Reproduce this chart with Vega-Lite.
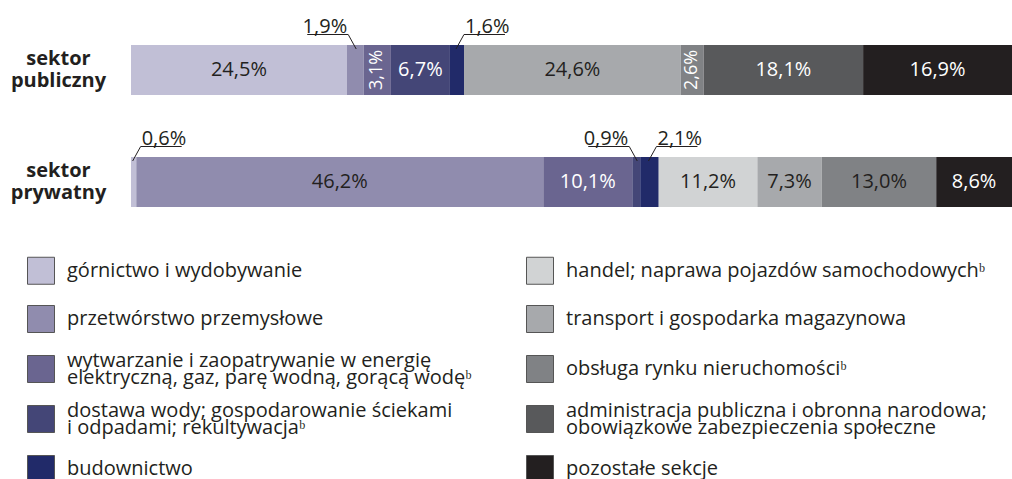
{
  "$schema": "https://vega.github.io/schema/vega-lite/v6.json",
  "width": 881,
  "height": 224,
  "autosize": {"type": "none"},
  "padding": {"left": 131, "top": 14, "right": 0, "bottom": 241},
  "config": {
    "view": {"stroke": null},
    "font": "Open Sans",
    "locale": {"number": {"decimal": ",", "thousands": " ", "grouping": [3], "currency": ["", "%"]}},
    "legend": {"symbolStrokeColor": "#555555", "symbolStrokeWidth": 1}
  },
  "data": {
    "values": [
      {"sektor": "sektor publiczny", "nr": 1, "sekcja": "górnictwo i wydobywanie", "value": 24.5},
      {"sektor": "sektor publiczny", "nr": 2, "sekcja": "przetwórstwo przemysłowe", "value": 1.9},
      {"sektor": "sektor publiczny", "nr": 3, "sekcja": "wytwarzanie i zaopatrywanie w energię elektryczną, gaz, parę wodną, gorącą wodęᵇ", "value": 3.1},
      {"sektor": "sektor publiczny", "nr": 4, "sekcja": "dostawa wody; gospodarowanie ściekami i odpadami; rekultywacjaᵇ", "value": 6.7},
      {"sektor": "sektor publiczny", "nr": 5, "sekcja": "budownictwo", "value": 1.6},
      {"sektor": "sektor publiczny", "nr": 7, "sekcja": "transport i gospodarka magazynowa", "value": 24.6},
      {"sektor": "sektor publiczny", "nr": 8, "sekcja": "obsługa rynku nieruchomościᵇ", "value": 2.6},
      {"sektor": "sektor publiczny", "nr": 9, "sekcja": "administracja publiczna i obronna narodowa; obowiązkowe zabezpieczenia społeczne", "value": 18.1},
      {"sektor": "sektor publiczny", "nr": 10, "sekcja": "pozostałe sekcje", "value": 16.9},
      {"sektor": "sektor prywatny", "nr": 1, "sekcja": "górnictwo i wydobywanie", "value": 0.6},
      {"sektor": "sektor prywatny", "nr": 2, "sekcja": "przetwórstwo przemysłowe", "value": 46.2},
      {"sektor": "sektor prywatny", "nr": 3, "sekcja": "wytwarzanie i zaopatrywanie w energię elektryczną, gaz, parę wodną, gorącą wodęᵇ", "value": 10.1},
      {"sektor": "sektor prywatny", "nr": 4, "sekcja": "dostawa wody; gospodarowanie ściekami i odpadami; rekultywacjaᵇ", "value": 0.9},
      {"sektor": "sektor prywatny", "nr": 5, "sekcja": "budownictwo", "value": 2.1},
      {"sektor": "sektor prywatny", "nr": 6, "sekcja": "handel; naprawa pojazdów samochodowychᵇ", "value": 11.2},
      {"sektor": "sektor prywatny", "nr": 7, "sekcja": "transport i gospodarka magazynowa", "value": 7.3},
      {"sektor": "sektor prywatny", "nr": 8, "sekcja": "obsługa rynku nieruchomościᵇ", "value": 13.0},
      {"sektor": "sektor prywatny", "nr": 10, "sekcja": "pozostałe sekcje", "value": 8.6}
    ]
  },
  "encoding": {
    "y": {
      "field": "sektor",
      "type": "nominal",
      "scale": {"domain": ["sektor publiczny", "sektor prywatny"], "paddingInner": 0, "paddingOuter": 0},
      "axis": {
        "title": null,
        "domain": false,
        "ticks": false,
        "tickSize": 0,
        "labelPadding": 73,
        "labelAlign": "center",
        "labelFont": "Open Sans",
        "labelFontSize": 20,
        "labelFontWeight": "bold",
        "labelColor": "#231f20",
        "labelLineHeight": 22,
        "labelOffset": -11,
        "labelExpr": "split(datum.label, ' ')"
      }
    }
  },
  "layer": [
    {
      "transform": [
        {"stack": "value", "groupby": ["sektor"], "sort": [{"field": "nr", "order": "ascending"}], "as": ["x0", "x1"]}
      ],
      "mark": {"type": "bar", "height": 50},
      "encoding": {
        "x": {"field": "x0", "type": "quantitative", "scale": {"domain": [0, 100], "nice": false}, "axis": null},
        "x2": {"field": "x1"},
        "color": {
          "field": "sekcja",
          "type": "nominal",
          "scale": {
            "domain": [
              "górnictwo i wydobywanie",
              "handel; naprawa pojazdów samochodowychᵇ",
              "przetwórstwo przemysłowe",
              "transport i gospodarka magazynowa",
              "wytwarzanie i zaopatrywanie w energię elektryczną, gaz, parę wodną, gorącą wodęᵇ",
              "obsługa rynku nieruchomościᵇ",
              "dostawa wody; gospodarowanie ściekami i odpadami; rekultywacjaᵇ",
              "administracja publiczna i obronna narodowa; obowiązkowe zabezpieczenia społeczne",
              "budownictwo",
              "pozostałe sekcje"
            ],
            "range": ["#c1bfd6", "#d1d3d4", "#908cae", "#a7a9ac", "#6a6590", "#808285", "#444677", "#58595b", "#212a69", "#231f20"]
          },
          "legend": {
            "orient": "none",
            "legendX": -104,
            "legendY": 241,
            "title": null,
            "columns": 2,
            "direction": "horizontal",
            "gridAlign": "all",
            "symbolType": "square",
            "symbolSize": 729,
            "symbolStrokeColor": "#555555",
            "symbolStrokeWidth": 1,
            "symbolOpacity": 1,
            "labelFont": "Open Sans",
            "labelFontSize": 20,
            "labelColor": "#231f20",
            "labelOffset": 12,
            "labelLimit": 600,
            "rowPadding": 12,
            "columnPadding": 36,
            "padding": 0,
            "labelExpr": "datum.label == 'wytwarzanie i zaopatrywanie w energię elektryczną, gaz, parę wodną, gorącą wodęᵇ' ? ['wytwarzanie i zaopatrywanie w energię', 'elektryczną, gaz, parę wodną, gorącą wodęᵇ'] : datum.label == 'dostawa wody; gospodarowanie ściekami i odpadami; rekultywacjaᵇ' ? ['dostawa wody; gospodarowanie ściekami', 'i odpadami; rekultywacjaᵇ'] : datum.label == 'administracja publiczna i obronna narodowa; obowiązkowe zabezpieczenia społeczne' ? ['administracja publiczna i obronna narodowa;', 'obowiązkowe zabezpieczenia społeczne'] : datum.label",
            "encode": {
              "symbols": {"update": {"stroke": {"value": "#555555"}, "strokeWidth": {"value": 1}}},
              "labels": {"update": {"lineHeight": {"value": 17}, "dy": {"signal": "length(datum.value) > 45 ? -8.5 : 0"}}}
            }
          }
        }
      }
    },
    {
      "transform": [
        {"stack": "value", "groupby": ["sektor"], "sort": [{"field": "nr", "order": "ascending"}], "as": ["x0", "x1"]},
        {"fold": ["x0", "x1"], "as": ["edge", "pos"]},
        {"aggregate": [{"op": "mean", "field": "pos", "as": "mid"}], "groupby": ["sektor", "nr", "sekcja", "value"]},
        {"filter": "datum.value >= 4"}
      ],
      "mark": {"type": "text", "fontSize": 20, "font": "Open Sans", "align": "center", "baseline": "middle"},
      "encoding": {
        "x": {"field": "mid", "type": "quantitative", "scale": {"domain": [0, 100], "nice": false}, "axis": null},
        "text": {"field": "value", "type": "quantitative", "format": "$.1f"},
        "color": {"condition": {"test": "datum.nr == 3 || datum.nr == 4 || datum.nr >= 9", "value": "#ffffff"}, "value": "#231f20"}
      }
    },
    {
      "transform": [
        {"stack": "value", "groupby": ["sektor"], "sort": [{"field": "nr", "order": "ascending"}], "as": ["x0", "x1"]},
        {"fold": ["x0", "x1"], "as": ["edge", "pos"]},
        {"aggregate": [{"op": "mean", "field": "pos", "as": "mid"}], "groupby": ["sektor", "nr", "sekcja", "value"]},
        {"filter": "datum.value >= 2.5 && datum.value < 4"}
      ],
      "mark": {"type": "text", "fontSize": 18, "font": "Open Sans", "align": "center", "baseline": "middle", "angle": 270, "color": "#ffffff"},
      "encoding": {
        "x": {"field": "mid", "type": "quantitative", "scale": {"domain": [0, 100], "nice": false}, "axis": null},
        "text": {"field": "value", "type": "quantitative", "format": "$.1f"}
      }
    },
    {
      "transform": [
        {"stack": "value", "groupby": ["sektor"], "sort": [{"field": "nr", "order": "ascending"}], "as": ["x0", "x1"]},
        {"fold": ["x0", "x1"], "as": ["edge", "pos"]},
        {"aggregate": [{"op": "mean", "field": "pos", "as": "mid"}], "groupby": ["sektor", "nr", "sekcja", "value"]},
        {"filter": "(datum.sektor == 'sektor publiczny' && datum.nr == 2) || (datum.sektor == 'sektor prywatny' && datum.nr == 4)"}
      ],
      "layer": [
        {
          "mark": {"type": "text", "fontSize": 20, "font": "Open Sans", "align": "right", "baseline": "alphabetic", "xOffset": -8, "yOffset": -37.5, "color": "#231f20"},
          "encoding": {
            "x": {"field": "mid", "type": "quantitative", "scale": {"domain": [0, 100], "nice": false}, "axis": null},
            "text": {"field": "value", "type": "quantitative", "format": "$.1f"}
          }
        },
        {
          "mark": {"type": "rule", "color": "#231f20", "strokeWidth": 1, "xOffset": -7, "x2Offset": -48, "yOffset": -35.5, "y2Offset": -35.5},
          "encoding": {
            "x": {"field": "mid", "type": "quantitative", "scale": {"domain": [0, 100], "nice": false}, "axis": null},
            "x2": {"field": "mid"},
            "y2": {"field": "sektor"}
          }
        },
        {
          "mark": {"type": "rule", "color": "#231f20", "strokeWidth": 1, "xOffset": 1, "x2Offset": -7, "yOffset": -21, "y2Offset": -35.5},
          "encoding": {
            "x": {"field": "mid", "type": "quantitative", "scale": {"domain": [0, 100], "nice": false}, "axis": null},
            "x2": {"field": "mid"},
            "y2": {"field": "sektor"}
          }
        }
      ]
    },
    {
      "transform": [
        {"stack": "value", "groupby": ["sektor"], "sort": [{"field": "nr", "order": "ascending"}], "as": ["x0", "x1"]},
        {"fold": ["x0", "x1"], "as": ["edge", "pos"]},
        {"aggregate": [{"op": "mean", "field": "pos", "as": "mid"}], "groupby": ["sektor", "nr", "sekcja", "value"]},
        {"filter": "datum.value < 2.5 && !((datum.sektor == 'sektor publiczny' && datum.nr == 2) || (datum.sektor == 'sektor prywatny' && datum.nr == 4))"}
      ],
      "layer": [
        {
          "mark": {"type": "text", "fontSize": 20, "font": "Open Sans", "align": "left", "baseline": "alphabetic", "xOffset": 8, "yOffset": -37.5, "color": "#231f20"},
          "encoding": {
            "x": {"field": "mid", "type": "quantitative", "scale": {"domain": [0, 100], "nice": false}, "axis": null},
            "text": {"field": "value", "type": "quantitative", "format": "$.1f"}
          }
        },
        {
          "mark": {"type": "rule", "color": "#231f20", "strokeWidth": 1, "xOffset": 7, "x2Offset": 48, "yOffset": -35.5, "y2Offset": -35.5},
          "encoding": {
            "x": {"field": "mid", "type": "quantitative", "scale": {"domain": [0, 100], "nice": false}, "axis": null},
            "x2": {"field": "mid"},
            "y2": {"field": "sektor"}
          }
        },
        {
          "mark": {"type": "rule", "color": "#231f20", "strokeWidth": 1, "xOffset": -1, "x2Offset": 7, "yOffset": -21, "y2Offset": -35.5},
          "encoding": {
            "x": {"field": "mid", "type": "quantitative", "scale": {"domain": [0, 100], "nice": false}, "axis": null},
            "x2": {"field": "mid"},
            "y2": {"field": "sektor"}
          }
        }
      ]
    }
  ]
}
